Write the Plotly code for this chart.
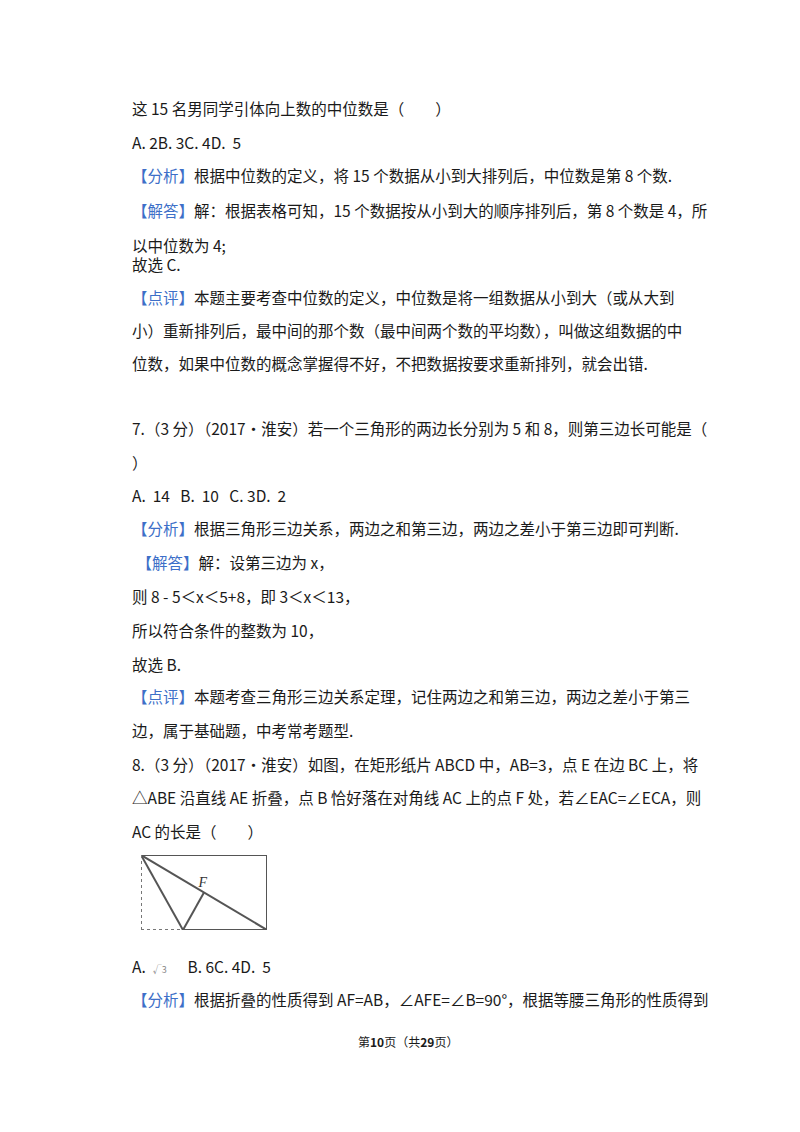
import math
import plotly.graph_objects as go

BLUE = "#3d6fc8"
INK = "#1a1a1a"


def tag(s):
    return f"<span style='color:{BLUE}'>【{s}】</span>"


# text lines: (y position in page px, x start, text)
lines = [
    (108, 122, "这 15 名男同学引体向上数的中位数是（　　）"),
    (142, 122, "A. 2B. 3C. 4D.  5"),
    (175, 122, tag("分析") + "根据中位数的定义，将 15 个数据从小到大排列后，中位数是第 8 个数."),
    (210, 122, tag("解答") + "解：根据表格可知，15 个数据按从小到大的顺序排列后，第 8 个数是 4，所"),
    (245, 122, "以中位数为 4;"),
    (264, 122, "故选 C."),
    (297, 122, tag("点评") + "本题主要考查中位数的定义，中位数是将一组数据从小到大（或从大到"),
    (330, 122, "小）重新排列后，最中间的那个数（最中间两个数的平均数），叫做这组数据的中"),
    (363, 122, "位数，如果中位数的概念掌握得不好，不把数据按要求重新排列，就会出错."),
    (428, 122, "7.（3 分）（2017•淮安）若一个三角形的两边长分别为 5 和 8，则第三边长可能是（"),
    (462, 122, "）"),
    (495, 122, "A.  14   B.  10   C. 3D.  2"),
    (528, 122, tag("分析") + "根据三角形三边关系，两边之和第三边，两边之差小于第三边即可判断."),
    (562, 123, " " + tag("解答") + "解：设第三边为 x，"),
    (596, 122, "则 8 - 5＜x＜5+8，即 3＜x＜13，"),
    (630, 122, "所以符合条件的整数为 10，"),
    (664, 122, "故选 B."),
    (696, 122, tag("点评") + "本题考查三角形三边关系定理，记住两边之和第三边，两边之差小于第三"),
    (730, 122, "边，属于基础题，中考常考题型."),
    (764, 122, "8.（3 分）（2017•淮安）如图，在矩形纸片 ABCD 中，AB=3，点 E 在边 BC 上，将"),
    (797, 122, "△ABE 沿直线 AE 折叠，点 B 恰好落在对角线 AC 上的点 F 处，若∠EAC=∠ECA，则"),
    (831, 122, "AC 的长是（　　）"),
    (966, 122, "A.  <span style='font-size:9px;color:#888'>√3</span>      B. 6C. 4D.  5"),
    (999, 122, tag("分析") + "根据折叠的性质得到 AF=AB，∠AFE=∠B=90°，根据等腰三角形的性质得到"),
]
footer = "第<b>10</b>页（共<b>29</b>页）"
Y_SHIFT = -8  # annotation text sits a little low

# geometry of the figure (AB = 3, angle ACB = 30 deg)
s3 = math.sqrt(3)
pts = {"A": (0, 3), "B": (0, 0), "C": (3 * s3, 0), "D": (3 * s3, 3),
       "E": (s3, 0), "F": (1.5 * s3, 1.5)}
solid = [("A", "D"), ("D", "C"), ("C", "E"), ("A", "E"), ("A", "C"), ("E", "F")]
dotted = [("A", "B"), ("B", "E")]
label_off = {"A": (-0.3, 0.05), "B": (-0.35, 0.0), "C": (0.3, -0.2), "D": (0.35, 0.05),
             "E": (-0.1, -0.35), "F": (-0.05, 0.35)}

fig = go.Figure()
fig.add_trace(go.Scatter(x=[0, 800], y=[0, 1132], mode="markers",
                         marker=dict(opacity=0), hoverinfo="skip", showlegend=False))

for a, b in solid:
    fig.add_trace(go.Scatter(x=[pts[a][0], pts[b][0]], y=[pts[a][1], pts[b][1]],
                             mode="lines", line=dict(color="#555", width=2),
                             cliponaxis=False,
                             xaxis="x2", yaxis="y2", showlegend=False, hoverinfo="skip"))
for a, b in dotted:
    fig.add_trace(go.Scatter(x=[pts[a][0], pts[b][0]], y=[pts[a][1], pts[b][1]],
                             mode="lines", line=dict(color="#777", width=2, dash="dot"),
                             cliponaxis=False,
                             xaxis="x2", yaxis="y2", showlegend=False, hoverinfo="skip"))
fig.add_trace(go.Scatter(
    x=[pts[k][0] + label_off[k][0] for k in pts],
    y=[pts[k][1] + label_off[k][1] for k in pts],
    text=list(pts), mode="text", cliponaxis=False,
    textfont=dict(family="Liberation Serif", size=14, color="#333", style="italic"),
    xaxis="x2", yaxis="y2", showlegend=False, hoverinfo="skip"))

for y, x, t in lines:
    fig.add_annotation(x=x, y=y + Y_SHIFT, text=t, xref="x", yref="y", xanchor="left",
                       yanchor="middle", showarrow=False,
                       font=dict(size=15.5, color=INK))
fig.add_annotation(x=400, y=1041 + Y_SHIFT, text=footer, xref="x", yref="y", showarrow=False,
                   font=dict(size=12, color=INK))

W, H = 800, 1132
fig.update_layout(
    width=W, height=H, margin=dict(l=0, r=0, t=0, b=0),
    paper_bgcolor="white", plot_bgcolor="white",
    font=dict(family="Noto Sans CJK SC"),
    xaxis=dict(range=[0, W], visible=False, domain=[0, 1]),
    yaxis=dict(range=[H, 0], visible=False, domain=[0, 1]),
    xaxis2=dict(range=[0, 3 * s3], visible=False,
                domain=[133 / W, 259 / W], anchor="y2"),
    yaxis2=dict(range=[0, 3], visible=False,
                domain=[(H - 922) / H, (H - 847) / H], anchor="x2"),
)

fig.write_html("out.html")
